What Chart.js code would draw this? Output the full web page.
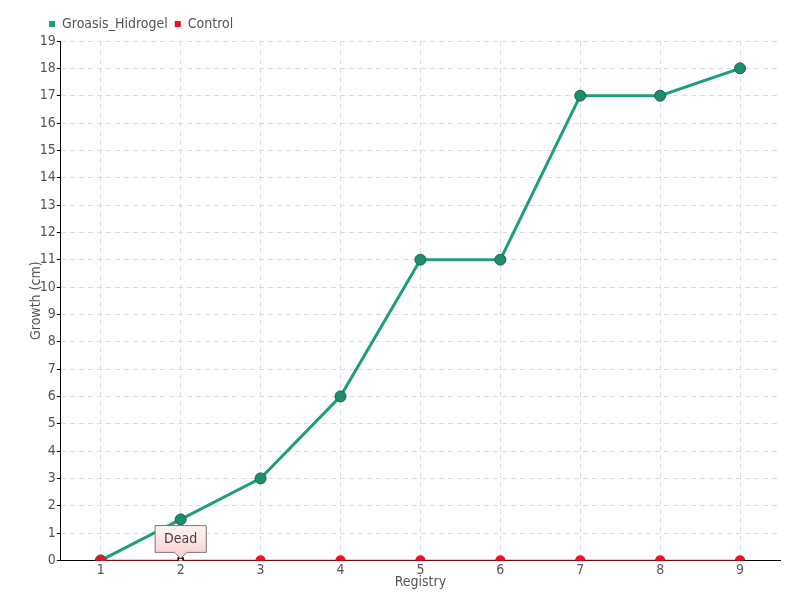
<!DOCTYPE html>
<html>
<head>
<meta charset="utf-8">
<script src="https://cdn.jsdelivr.net/npm/chart.js@4.4.1/dist/chart.umd.min.js"></script>
<style>
  html, body { margin: 0; padding: 0; background: #fff; }
  #wrap { width: 800px; height: 600px; }
</style>
</head>
<body>
<div id="wrap"><canvas id="growth-chart"></canvas></div>
<script>
var registry = ["1", "2", "3", "4", "5", "6", "7", "8", "9"];
var hidrogel = [0, 1.5, 3, 6, 11, 11, 17, 17, 18];
var control = [0, 0, 0, 0, 0, 0, 0, 0, 0];
var controlNotes = ["", "Dead", "", "", "", "", "", "", ""];

var fontFamily = "'DejaVu Sans Condensed', 'Liberation Sans Narrow', sans-serif";
Chart.defaults.font.family = fontFamily;
Chart.defaults.color = "#555";

// moves the legend to the right so it starts near the y axis
const legendShift = {
    id: "legendShift",
    afterLayout: function (chart) {
        chart.legend.left += 14;
        chart.legend.right += 14;
    }
};

const data = {
    labels: registry,
    datasets: [{
        label: "Groasis_Hidrogel",
        data: hidrogel,
        borderColor: "#1e9d80",
        backgroundColor: "#1e9d80",
        borderWidth: 3,
        pointRadius: 5.5,
        pointBackgroundColor: "#1f8c6c",
        pointBorderColor: "#176550",
        pointBorderWidth: 1,
        order: 2
    }, {
        label: "Control",
        data: control,
        borderColor: "#ee1122",
        backgroundColor: "#ee1122",
        borderWidth: 1.2,
        pointRadius: 4.5,
        pointBackgroundColor: "#ee1122",
        pointBorderColor: "#ee1122",
        pointStyle: function (ctx) { return ctx.active ? "rect" : "circle"; },
        pointHoverRadius: 3.5,
        pointHoverBackgroundColor: "#ffffff",
        pointHoverBorderColor: "#000000",
        pointHoverBorderWidth: 1.5,
        order: 1
    }]
};

const config = {
    type: "line",
    data: data,
    plugins: [legendShift],
    options: {
        responsive: false,
        animation: false,
        events: [],
        layout: { padding: { left: 28, right: 20, top: 10, bottom: 9 } },
        plugins: {
            legend: {
                position: "top",
                align: "start",
                labels: {
                    boxWidth: 6,
                    boxHeight: 6,
                    padding: 7,
                    color: "#555",
                    font: { size: 14 },
                    sort: function (a, b) { return a.datasetIndex - b.datasetIndex; },
                    generateLabels: function (chart) {
                        var items = Chart.defaults.plugins.legend.labels.generateLabels(chart);
                        items.forEach(function (it) { it.lineWidth = 0; });
                        return items;
                    }
                }
            },
            tooltip: {
                enabled: true,
                yAlign: "bottom",
                xAlign: "center",
                backgroundColor: function (ctx) {
                    var tt = ctx.tooltip;
                    var g = ctx.chart.ctx.createLinearGradient(0, tt.y, 0, tt.y + tt.height);
                    g.addColorStop(0, "#fff6f6");
                    g.addColorStop(1, "#fbd2d2");
                    return g;
                },
                borderColor: "#777",
                borderWidth: 1,
                cornerRadius: 0,
                caretSize: 6,
                padding: { left: 9, right: 9, top: 5, bottom: 5 },
                displayColors: false,
                bodyColor: "#444",
                bodyFont: { size: 14 },
                callbacks: {
                    title: function () { return ""; },
                    label: function (ctx) { return controlNotes[ctx.dataIndex]; }
                }
            }
        },
        scales: {
            x: {
                offset: true,
                grid: {
                    color: "#dddddd",
                    drawTicks: false
                },
                border: { color: "#000", width: 1, dash: [5, 4] },
                ticks: { padding: 2, color: "#555", font: { size: 14 } },
                title: {
                    display: true,
                    text: "Registry",
                    color: "#555",
                    font: { size: 14 },
                    padding: { top: -7, bottom: 0 }
                }
            },
            y: {
                min: 0,
                max: 19,
                grid: {
                    color: "#dddddd",
                    tickColor: "#000",
                    tickLength: 4
                },
                border: { color: "#000", width: 1, dash: [5, 4] },
                ticks: { stepSize: 1, padding: 1, color: "#555", font: { size: 14 } },
                title: {
                    display: true,
                    text: "Growth (cm)",
                    color: "#555",
                    font: { size: 14 },
                    padding: { top: 0, bottom: -6 }
                }
            }
        }
    }
};

var canvas = document.getElementById("growth-chart");
canvas.width = 800;
canvas.height = 600;
const growthChart = new Chart(canvas, config);

// show the "Dead" note on the second Control point
var noteIndex = controlNotes.indexOf("Dead");
var pt = growthChart.getDatasetMeta(1).data[noteIndex];
growthChart.setActiveElements([{ datasetIndex: 1, index: noteIndex }]);
growthChart.tooltip.setActiveElements([{ datasetIndex: 1, index: noteIndex }], { x: pt.x, y: pt.y });
growthChart.update();
</script>
</body>
</html>
